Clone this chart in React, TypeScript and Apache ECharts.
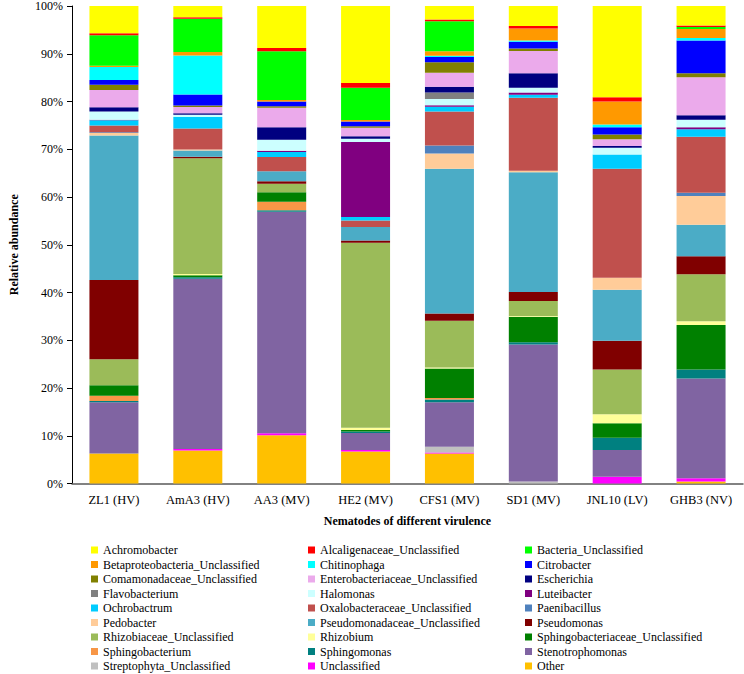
import React, { useEffect, useRef } from "react";
import * as echarts from "echarts";

const categories = ["ZL1 (HV)", "AmA3 (HV)", "AA3 (MV)", "HE2 (MV)", "CFS1 (MV)", "SD1 (MV)", "JNL10 (LV)", "GHB3 (NV)"];
const yTicks = [0, 10, 20, 30, 40, 50, 60, 70, 80, 90, 100];

// stacked bottom -> top
const other = [6.3, 6.9, 10.1, 6.7, 6.3, 0, 0, 0.4];
const unclassified = [0, 0.3, 0.4, 0.3, 0.2, 0, 1.4, 0.7];
const streptophyta = [0, 0, 0, 0, 1.2, 0.4, 0, 0];
const stenotrophomonas = [10.7, 35.7, 46.4, 3.6, 9.3, 28.7, 5.6, 20.9];
const sphingomonas = [0.3, 0.3, 0.3, 0.3, 0.6, 0.5, 2.6, 1.9];
const sphingobacterium = [1.1, 0, 1.8, 0, 0.3, 0, 0, 0];
const sphingobacteriaceae = [2.2, 0.4, 2.0, 0.3, 6.2, 5.3, 3.0, 9.3];
const rhizobium = [0, 0.3, 0, 0.5, 0.2, 0.2, 1.9, 0.8];
const rhizobiaceae = [5.4, 24.2, 1.8, 38.7, 9.8, 3.1, 9.4, 9.8];
const pseudomonas = [16.6, 0.35, 0.5, 0.5, 1.5, 1.9, 6.0, 3.8];
const pseudomonadaceae = [30.3, 1.3, 2.1, 2.8, 30.3, 25.1, 10.7, 6.6];
const pedobacter = [0.5, 0.2, 0, 0, 3.2, 0.3, 2.5, 6.0];
const paenibacillus = [0.15, 0, 0, 0, 1.7, 0, 0, 0.7];
const oxalobacteraceae = [1.4, 4.4, 3.0, 1.4, 7.1, 15.3, 22.8, 11.7];
const ochrobactrum = [1.1, 2.4, 1.0, 0.7, 1.0, 0.6, 3.0, 1.6];
const luteibacter = [0.15, 0, 0.3, 15.7, 0.3, 0.5, 0, 0.4];
const halomonas = [1.7, 0.5, 2.3, 0.7, 1.3, 1.0, 1.4, 1.6];
const flavobacterium = [0, 0, 0, 0, 1.4, 0, 0, 0];
const escherichia = [0.9, 0.3, 2.6, 0.5, 1.2, 3.0, 0.4, 0.9];
const enterobacteriaceae = [3.6, 1.3, 4.1, 1.8, 2.9, 4.7, 1.4, 8.0];
const comamonadaceae = [1.1, 0.3, 0.3, 0.3, 2.2, 0.5, 1.0, 0.8];
const citrobacter = [1.0, 2.3, 1.0, 1.0, 1.1, 1.4, 1.5, 6.9];
const chitinophaga = [2.7, 8.2, 0, 0, 0.3, 0.3, 0.6, 0.5];
const betaproteobacteria = [0.3, 0.7, 0.3, 0.3, 0.9, 2.5, 4.8, 1.9];
const bacteria = [6.4, 7.0, 10.2, 6.8, 6.3, 0, 0, 0.4];
const alcaligenaceae = [0.4, 0.3, 0.7, 1.0, 0.35, 0.5, 0.9, 0.3];
const achromobacter = [5.7, 2.35, 8.8, 16.1, 2.85, 4.2, 19.1, 4.1];

const stackSeries: [string, number[], string][] = [
  ["Other", other, "#FFC000"],
  ["Unclassified", unclassified, "#FF00FF"],
  ["Streptophyta_Unclassified", streptophyta, "#C0C0C0"],
  ["Stenotrophomonas", stenotrophomonas, "#8064A2"],
  ["Sphingomonas", sphingomonas, "#008080"],
  ["Sphingobacterium", sphingobacterium, "#F79646"],
  ["Sphingobacteriaceae_Unclassified", sphingobacteriaceae, "#008000"],
  ["Rhizobium", rhizobium, "#FFFF99"],
  ["Rhizobiaceae_Unclassified", rhizobiaceae, "#9BBB59"],
  ["Pseudomonas", pseudomonas, "#800000"],
  ["Pseudomonadaceae_Unclassified", pseudomonadaceae, "#4BACC6"],
  ["Pedobacter", pedobacter, "#FFCC99"],
  ["Paenibacillus", paenibacillus, "#4F81BD"],
  ["Oxalobacteraceae_Unclassified", oxalobacteraceae, "#C0504D"],
  ["Ochrobactrum", ochrobactrum, "#00CCFF"],
  ["Luteibacter", luteibacter, "#800080"],
  ["Halomonas", halomonas, "#CCFFFF"],
  ["Flavobacterium", flavobacterium, "#808080"],
  ["Escherichia", escherichia, "#000080"],
  ["Enterobacteriaceae_Unclassified", enterobacteriaceae, "#EBAAEB"],
  ["Comamonadaceae_Unclassified", comamonadaceae, "#808000"],
  ["Citrobacter", citrobacter, "#0000FF"],
  ["Chitinophaga", chitinophaga, "#00FFFF"],
  ["Betaproteobacteria_Unclassified", betaproteobacteria, "#FF9900"],
  ["Bacteria_Unclassified", bacteria, "#00FF00"],
  ["Alcaligenaceae_Unclassified", alcaligenaceae, "#FF0000"],
  ["Achromobacter", achromobacter, "#FFFF00"],
];

const legendCol1 = ["Achromobacter", "Betaproteobacteria_Unclassified", "Comamonadaceae_Unclassified", "Flavobacterium", "Ochrobactrum", "Pedobacter", "Rhizobiaceae_Unclassified", "Sphingobacterium", "Streptophyta_Unclassified"];
const legendCol2 = ["Alcaligenaceae_Unclassified", "Chitinophaga", "Enterobacteriaceae_Unclassified", "Halomonas", "Oxalobacteraceae_Unclassified", "Pseudomonadaceae_Unclassified", "Rhizobium", "Sphingomonas", "Unclassified"];
const legendCol3 = ["Bacteria_Unclassified", "Citrobacter", "Escherichia", "Luteibacter", "Paenibacillus", "Pseudomonas", "Sphingobacteriaceae_Unclassified", "Stenotrophomonas", "Other"];

const FONT = "'Liberation Serif', 'Times New Roman', serif";

export default function App() {
  const ref = useRef<HTMLDivElement>(null);
  useEffect(() => {
    document.body.style.margin = "0";
    if (!ref.current) return;
    const chart = echarts.init(ref.current, undefined, { renderer: "svg" });
    const legendBase = (data: string[], left: number) => ({
      orient: "vertical",
      left,
      top: 544,
      height: 130,
      padding: 0,
      data,
      itemWidth: 7,
      itemHeight: 7,
      itemGap: 2.5,
      selectedMode: false,
      icon: "rect",
      textStyle: { fontFamily: FONT, fontSize: 12, color: "#000", lineHeight: 12 },
    });
    chart.setOption({
      animation: false,
      backgroundColor: "#fff",
      textStyle: { fontFamily: FONT },
      grid: { left: 57, right: 1, top: 5.5, bottom: 190.5, containLabel: false },
      legend: [legendBase(legendCol1, 91), legendBase(legendCol2, 308), legendBase(legendCol3, 525)],
      xAxis: {
        type: "category",
        data: categories,
        name: "Nematodes of different virulence",
        nameLocation: "middle",
        nameGap: 31.5,
        nameTextStyle: { fontFamily: FONT, fontSize: 12, fontWeight: "bold", color: "#000" },
        axisLine: { lineStyle: { color: "#595959", width: 1.5 } },
        axisTick: { show: false },
        axisLabel: { fontFamily: FONT, fontSize: 12.5, color: "#000", margin: 10, interval: 0 },
      },
      yAxis: {
        type: "value",
        min: yTicks[0],
        max: yTicks[yTicks.length - 1],
        interval: 10,
        name: "Relative abundance",
        nameLocation: "middle",
        nameGap: 52,
        nameTextStyle: { fontFamily: FONT, fontSize: 12, fontWeight: "bold", color: "#000" },
        axisLine: { show: true, lineStyle: { color: "#000", width: 1 } },
        axisTick: { show: true, length: 5, lineStyle: { color: "#000" } },
        splitLine: { show: false },
        axisLabel: { fontFamily: FONT, fontSize: 12, color: "#000", margin: 9, formatter: "{value}%" },
      },
      series: stackSeries.map(([name, data, color]) => ({
        name,
        type: "bar",
        stack: "total",
        data,
        barWidth: 49,
        itemStyle: { color },
        emphasis: { disabled: true },
      })),
    });
    return () => chart.dispose();
  }, []);
  return <div ref={ref} style={{ width: 744, height: 674 }} />;
}
